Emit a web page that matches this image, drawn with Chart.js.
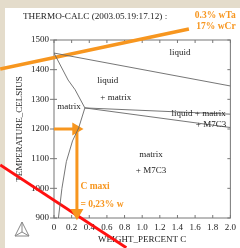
<!DOCTYPE html>
<html>
<head>
<meta charset="utf-8">
<script src="https://cdn.jsdelivr.net/npm/chart.js@4"></script>
<style>
  html, body { margin: 0; padding: 0; background: #e4dccb; }
  canvas { display: block; }
</style>
</head>
<body>
<canvas id="myChart" width="240" height="248"></canvas>
<script>
// phase boundaries, [wt% C, temperature C]
const liquidusLine = [[0, 1456], [2.0, 1345]];
const matrixLiquidLine = [[0, 1456], [0.16, 1365], [0.24, 1332], [0.35, 1271]];
const upperM7C3Line = [[0.35, 1271], [2.0, 1250]];
const lowerM7C3Line = [[0.35, 1271], [2.0, 1205]];
const matrixSolvusLine = [[0.35, 1271], [0.28, 1204], [0.21, 1160], [0.14, 1090], [0.09, 1000], [0.05, 900]];

// hand drawn annotations on top of the diagram
const compositionLine = [[-0.61, 1402], [1.53, 1537]];
const tempArrow = [[0, 1200], [0.25, 1200]];
const cMaxArrow = [[0.26, 1200], [0.26, 918]];
const redLine = [[-0.61, 1079], [0.82, 800]];

const xTicks = [0, 0.2, 0.4, 0.6, 0.8, 1.0, 1.2, 1.4, 1.6, 1.8, 2.0];
const yTicks = [900, 1000, 1100, 1200, 1300, 1400, 1500];

const phaseLabels = [
  ["liquid", 1.43, 1456],
  ["liquid", 0.61, 1362],
  ["+ matrix", 0.70, 1305],
  ["matrix", 0.17, 1274],
  ["liquid + matrix", 1.64, 1252],
  ["+ M7C3", 1.78, 1215],
  ["matrix", 1.10, 1113],
  ["+ M7C3", 1.10, 1058],
];
const noteLabels = [
  ["C maxi", 0.30, 1005, "left"],
  ["= 0,23% w", 0.30, 944, "left"],
  ["0.3% wTa", 2.06, 1584, "right"],
  ["17% wCr", 2.06, 1544, "right"],
];

const GREY = "#666";
const ORANGE = "#f7961f";
const SERIF = "'Liberation Serif', serif";

const toPts = (arr) => arr.map(([x, y]) => ({ x: x, y: y }));

const phaseSet = (arr) => ({
  data: toPts(arr),
  borderColor: GREY,
  borderWidth: 0.9,
  pointRadius: 0,
});

const arrowSet = (arr, rot) => ({
  data: toPts(arr),
  borderColor: ORANGE,
  backgroundColor: ORANGE,
  borderWidth: 3,
  pointRadius: [0, 4.5],
  pointStyle: "triangle",
  rotation: [0, rot],
  clip: false,
});

const pagePlugin = {
  id: "page",
  beforeDraw(chart) {
    const ctx = chart.ctx;
    ctx.save();
    ctx.fillStyle = "#e4dccb";
    ctx.fillRect(0, 0, chart.width, chart.height);
    ctx.fillStyle = "#ffffff";
    ctx.fillRect(5, 8, chart.width - 5, chart.height - 8);
    ctx.restore();
  },
  beforeDatasetsDraw(chart) {
    const { ctx, chartArea: a, scales } = chart;
    ctx.save();
    ctx.strokeStyle = "#777";
    ctx.lineWidth = 1;
    ctx.strokeRect(a.left, a.top, a.right - a.left, a.bottom - a.top);
    ctx.beginPath();
    xTicks.forEach((v) => {
      const px = scales.x.getPixelForValue(v);
      ctx.moveTo(px, a.top); ctx.lineTo(px, a.top + 3);
      ctx.moveTo(px, a.bottom); ctx.lineTo(px, a.bottom - 3);
    });
    yTicks.forEach((v) => {
      const py = scales.y.getPixelForValue(v);
      ctx.moveTo(a.left - 4, py); ctx.lineTo(a.left + 3, py);
      ctx.moveTo(a.right, py); ctx.lineTo(a.right - 3, py);
    });
    ctx.stroke();
    ctx.restore();
  },
  afterDraw(chart) {
    const { ctx, scales } = chart;
    ctx.save();
    ctx.textBaseline = "middle";
    ctx.fillStyle = "#222";
    ctx.font = "9.2px " + SERIF;
    ctx.textAlign = "left";
    ctx.fillText("THERMO-CALC (2003.05.19:17.12) :", 23, 17);
    ctx.font = "9px " + SERIF;
    ctx.textAlign = "center";
    phaseLabels.forEach(([t, vx, vy]) => {
      ctx.fillText(t, scales.x.getPixelForValue(vx), scales.y.getPixelForValue(vy));
    });
    ctx.fillStyle = ORANGE;
    ctx.font = "bold 9.5px " + SERIF;
    noteLabels.forEach(([t, vx, vy, al]) => {
      ctx.textAlign = al;
      ctx.fillText(t, scales.x.getPixelForValue(vx), scales.y.getPixelForValue(vy));
    });
    // small thermo-calc logo
    ctx.strokeStyle = "#888";
    ctx.lineWidth = 1;
    ctx.beginPath();
    ctx.moveTo(15, 236); ctx.lineTo(29, 236); ctx.lineTo(22, 222); ctx.closePath();
    ctx.moveTo(22, 222); ctx.lineTo(22, 232);
    ctx.moveTo(15, 236); ctx.lineTo(22, 232); ctx.lineTo(29, 236);
    ctx.stroke();
    ctx.restore();
  },
};

const drawChart = () => {
  const ctx = document.getElementById("myChart").getContext("2d");
  new Chart(ctx, {
    type: "line",
    data: {
      datasets: [
        phaseSet(liquidusLine),
        phaseSet(matrixLiquidLine),
        phaseSet(upperM7C3Line),
        phaseSet(lowerM7C3Line),
        phaseSet(matrixSolvusLine),
        {
          data: toPts(compositionLine),
          borderColor: ORANGE,
          borderWidth: 3.5,
          pointRadius: 0,
          clip: false,
        },
        arrowSet(tempArrow, 90),
        arrowSet(cMaxArrow, 180),
        {
          data: toPts(redLine),
          borderColor: "#ff1010",
          borderWidth: 3,
          pointRadius: 0,
          clip: false,
        },
      ],
    },
    options: {
      responsive: false,
      animation: false,
      layout: { padding: { top: 40, right: 8, left: 0, bottom: 0 } },
      plugins: { legend: { display: false }, tooltip: { enabled: false } },
      scales: {
        x: {
          type: "linear",
          min: xTicks[0],
          max: xTicks[xTicks.length - 1],
          afterBuildTicks: (s) => { s.ticks = xTicks.map((v) => ({ value: v })); },
          afterFit: (s) => { s.height = 30; },
          grid: { display: false, drawTicks: false },
          border: { display: false },
          ticks: {
            padding: 4,
            color: "#222",
            font: { family: SERIF, size: 9 },
            callback: (v) => (v === 0 ? "0" : v.toFixed(1)),
          },
          title: {
            display: true,
            text: "WEIGHT_PERCENT C",
            color: "#222",
            font: { family: SERIF, size: 9 },
            padding: { top: 0, bottom: 3 },
          },
        },
        y: {
          min: yTicks[0],
          max: yTicks[yTicks.length - 1],
          afterBuildTicks: (s) => { s.ticks = yTicks.map((v) => ({ value: v })); },
          afterFit: (s) => { s.width = 54; },
          grid: { display: false, drawTicks: false },
          border: { display: false },
          ticks: {
            padding: 5,
            color: "#222",
            font: { family: SERIF, size: 9 },
            callback: (v) => String(v),
          },
          title: {
            display: true,
            text: "TEMPERATURE_CELSIUS",
            color: "#222",
            font: { family: SERIF, size: 9 },
            padding: { top: 14, bottom: 0 },
          },
        },
      },
    },
    plugins: [pagePlugin],
  });
};

drawChart();
</script>
</body>
</html>
